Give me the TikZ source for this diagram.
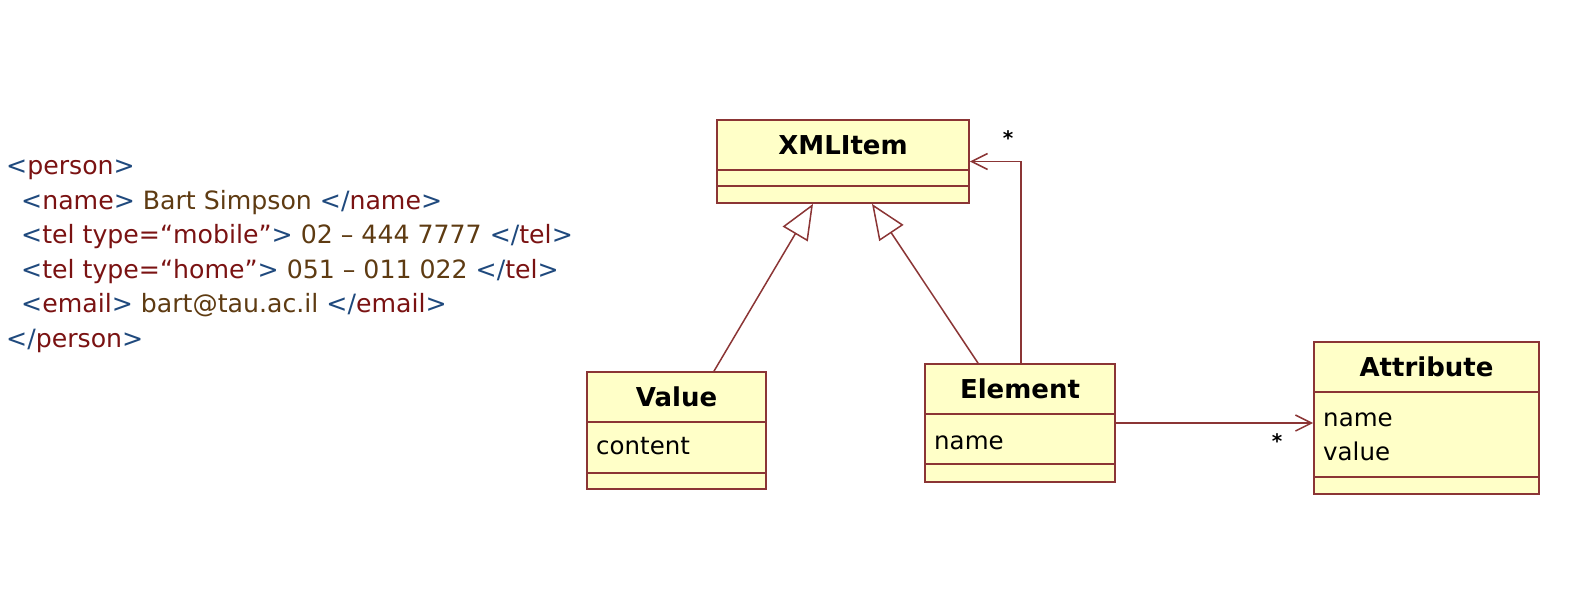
\documentclass[tikz,border=0pt]{standalone}
\usepackage{fontspec}
\setmainfont{DejaVu Sans}
\usetikzlibrary{arrows.meta}
\definecolor{xblue}{HTML}{1F497D}
\definecolor{xred}{HTML}{7A1212}
\definecolor{xbrown}{HTML}{5E3B12}
\definecolor{umlred}{HTML}{8B3535}
\definecolor{umlfill}{HTML}{FFFFC8}
\newcommand\xtag[1]{\textcolor{xblue}{<}\textcolor{xred}{#1}\textcolor{xblue}{>}}
\newcommand\xetag[1]{\textcolor{xblue}{</}\textcolor{xred}{#1}\textcolor{xblue}{>}}
\newcommand\xval[1]{\textcolor{xbrown}{#1}}
\tikzset{
  xmlline/.style={anchor=base west, inner sep=0pt, font=\fontsize{25.2}{30}\selectfont},
  cls/.style={draw=umlred, fill=umlfill, line width=1.8pt, inner sep=0pt, rectangle},
  divider/.style={draw=umlred, line width=1.8pt},
  ctitle/.style={inner sep=0pt, font=\fontsize{26}{30}\selectfont\bfseries},
  cattr/.style={anchor=west, inner sep=0pt, align=left, font=\fontsize{24.5}{34}\selectfont},
  gen/.style={draw=umlred, line width=1.5pt, -{Triangle[open, fill=white, length=35pt, width=29pt, line width=1.5pt]}},
  assoc/.style={draw=umlred, line width=1.5pt, -{Straight Barb[length=16pt, width=16pt, line width=1.5pt]}},
  mult/.style={inner sep=0pt, font=\fontsize{20}{24}\selectfont\bfseries}
}
\begin{document}
\begin{tikzpicture}[x=1pt, y=-1pt]
\path[use as bounding box] (0,0) rectangle (1592,598);
% XML text
\node[xmlline] (l1) at (6,174) {\xtag{person}};
\node[xmlline] (l2) at (21,209) {\xtag{name} \xval{Bart Simpson} \xetag{name}};
\node[xmlline] (l3) at (21,243) {\xtag{tel type=“mobile”} \xval{02 – 444 7777} \xetag{tel}};
\node[xmlline] (l4) at (21,278) {\xtag{tel type=“home”} \xval{051 – 011 022} \xetag{tel}};
\node[xmlline] (l5) at (21,312) {\xtag{email} \xval{bart@tau.ac.il} \xetag{email}};
\node[xmlline] (l6) at (6,347) {\xetag{person}};
% classes
\node[cls, minimum width=252pt, minimum height=83pt] (xml) at (843,161.5) {};
\draw[divider] (xml.west |- 0,170) -- (xml.east |- 0,170);
\draw[divider] (xml.west |- 0,186) -- (xml.east |- 0,186);
\node[ctitle] (xmlT) at (843,145) {XMLItem};

\node[cls, minimum width=179pt, minimum height=117pt] (val) at (676.5,430.5) {};
\draw[divider] (val.west |- 0,422) -- (val.east |- 0,422);
\draw[divider] (val.west |- 0,473) -- (val.east |- 0,473);
\node[ctitle] (valT) at (676.5,397) {Value};
\node[cattr] (valA) at (596,446) {content};

\node[cls, minimum width=190pt, minimum height=118pt] (el) at (1020,423) {};
\draw[divider] (el.west |- 0,414) -- (el.east |- 0,414);
\draw[divider] (el.west |- 0,464) -- (el.east |- 0,464);
\node[ctitle] (elT) at (1020,389) {Element};
\node[cattr] (elA) at (934,443) {name};

\node[cls, minimum width=225pt, minimum height=152pt] (att) at (1426.5,418) {};
\draw[divider] (att.west |- 0,392) -- (att.east |- 0,392);
\draw[divider] (att.west |- 0,477) -- (att.east |- 0,477);
\node[ctitle] (attT) at (1426.5,367) {Attribute};
\node[cattr] (attA) at (1323,437) {name\\value};

% connectors
\draw[gen] ([xshift=37.5pt]val.north) -- ([xshift=-30pt]xml.south);
\draw[gen] ([xshift=-42pt]el.north) -- ([xshift=29pt]xml.south);
\draw[assoc] ([xshift=1pt]el.north) |- (xml.east);
\draw[assoc] (el.east) -- (el.east -| att.west);
\node[mult] (m1) at (1008,138) {*};
\node[mult] (m2) at (1277,441) {*};
\end{tikzpicture}
\end{document}
